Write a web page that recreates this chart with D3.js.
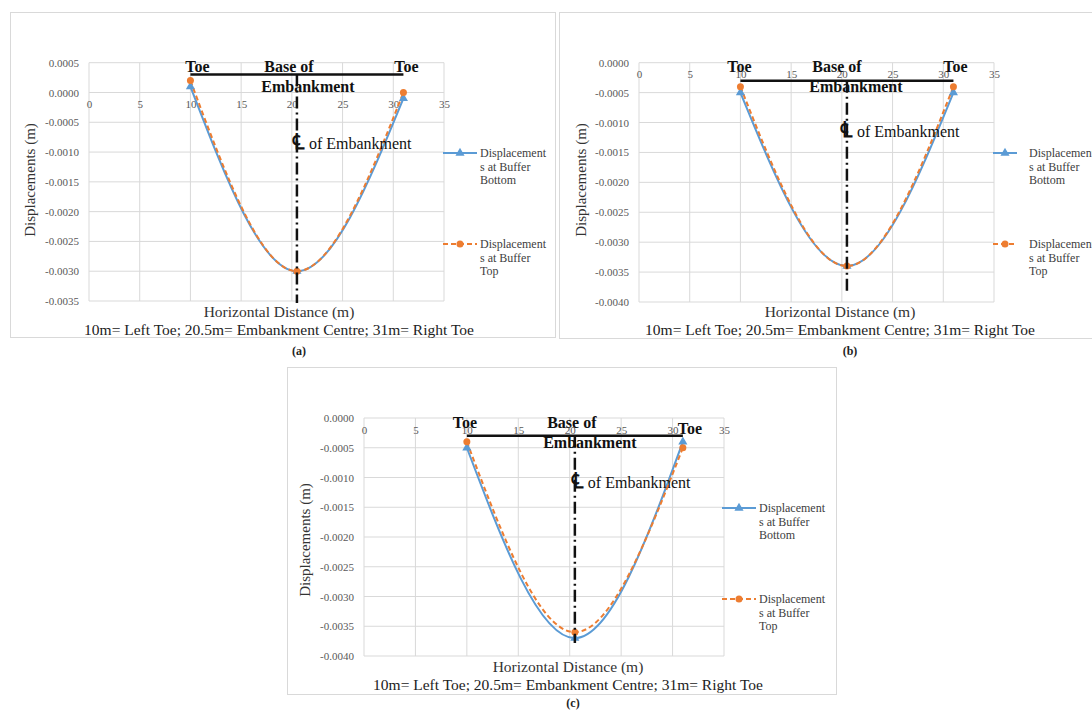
<!DOCTYPE html>
<html><head><meta charset="utf-8">
<script src="https://cdn.jsdelivr.net/npm/d3@7"></script>
<style>body{margin:0;background:#fff} svg{display:block}</style>
</head><body><svg id="chart" width="1092" height="712"></svg>
<script>
// ---------- data ----------
const xValues = [10, 20.5, 31];
const xTicks = [0, 5, 10, 15, 20, 25, 30, 35];
const yTicksA = [0.0005, 0, -0.0005, -0.001, -0.0015, -0.002, -0.0025, -0.003, -0.0035];
const yTicksBC = [0, -0.0005, -0.001, -0.0015, -0.002, -0.0025, -0.003, -0.0035, -0.004];
const bottomA = [0.0001, -0.0030, -0.0001];
const topA = [0.0002, -0.0030, 0.0000];
const bottomB = [-0.0005, -0.0034, -0.0005];
const topB = [-0.0004, -0.0034, -0.0004];
const bottomC = [-0.0005, -0.0037, -0.0004];
const topC = [-0.0004, -0.0036, -0.0005];
const legendBottom = ["Displacement", "s at Buffer", "Bottom"];
const legendTop = ["Displacement", "s at Buffer", "Top"];
const panelLabels = ["(a)", "(b)", "(c)"];
const yTitle = "Displacements (m)";
const xTitle = "Horizontal Distance (m)";
const subTitle = "10m= Left Toe; 20.5m= Embankment Centre; 31m= Right Toe";
const baseLineY = [0.0003, -0.0003, -0.0003];   // embankment base annotation level (data units)
const toeX = [10, 31];
const centreX = 20.5;

// ---------- layout ----------
const layouts = [
  {frame:[10,12,545,325], plot:[89,444,62.7,301], dom:[-0.0035,0.0005], ticks:yTicksA,
   leg:{x0:443,x1:477,tx:480,y1:153,y2:244}, yt:[30,180], xt:[279,311,329], lab:[299,351],
   ann:{tl:7,tr:3,trdy:0,bo:-8,em:11,cl:-5,cly:86,vEnd:303}},
  {frame:[559,12,560,326], plot:[639,994,62.7,302], dom:[-0.004,0], ticks:yTicksBC,
   leg:{x0:993,x1:1017,tx:1029,y1:153,y2:244}, yt:[581,180], xt:[840,311,329], lab:[850,351],
   ann:{tl:-1,tr:2,trdy:0,bo:-10,em:9,cl:-7,cly:74,vEnd:293}},
  {frame:[287,367,549,327], plot:[364,724,418,656], dom:[-0.004,0], ticks:yTicksBC,
   leg:{x0:722,x1:756,tx:759,y1:508,y2:599}, yt:[305,540], xt:[568,666,684], lab:[573,703],
   ann:{tl:-2,tr:7,trdy:6,bo:-3,em:15,cl:-4,cly:70,vEnd:643}}
];
const seriesSets = [[bottomA, topA], [bottomB, topB], [bottomC, topC]];

const blue = "#5b9bd5", orange = "#ed7d31", grid = "#d9d9d9";
const serif = "'Liberation Serif','Times New Roman',serif";
const svg = d3.select("#chart");

layouts.forEach((L, i) => {
  const g = svg.append("g");
  const [fx, fy, fw, fh] = L.frame;
  g.append("rect").attr("x", fx + 0.5).attr("y", fy + 0.5).attr("width", fw).attr("height", fh)
    .attr("fill", "#fff").attr("stroke", grid);

  const [pl, pr, pt, pb] = L.plot;
  const x = d3.scaleLinear().domain([0, 35]).range([pl, pr]);
  const y = d3.scaleLinear().domain(L.dom).range([pb, pt]);

  // gridlines
  g.append("g").selectAll("line.h").data(L.ticks).join("line")
    .attr("x1", pl).attr("x2", pr).attr("y1", d => y(d)).attr("y2", d => y(d))
    .attr("stroke", grid).attr("stroke-width", 1);
  g.append("g").selectAll("line.v").data(xTicks).join("line")
    .attr("x1", d => x(d)).attr("x2", d => x(d)).attr("y1", pt).attr("y2", pb)
    .attr("stroke", grid).attr("stroke-width", 1);

  // y axis labels
  const yAxis = d3.axisLeft(y).tickValues(L.ticks).tickSize(0).tickPadding(10)
    .tickFormat(d => d3.format(".4f")(d).replace("−", "-"));
  const ya = g.append("g").attr("transform", `translate(${pl},0)`).call(yAxis);
  ya.select(".domain").remove();
  ya.selectAll("text").attr("font-family", serif).attr("font-size", 11).attr("fill", "#595959");

  // x axis labels at y = 0
  const xAxis = d3.axisBottom(x).tickValues(xTicks).tickSize(0).tickPadding(8);
  const xa = g.append("g").attr("transform", `translate(0,${y(0)})`).call(xAxis);
  xa.select(".domain").remove();
  xa.selectAll("text").attr("font-family", serif).attr("font-size", 11).attr("fill", "#595959");

  // series
  const line = d3.line().x((d, k) => x(xValues[k])).y(d => y(d)).curve(d3.curveMonotoneX);
  const [bot, top] = seriesSets[i];
  g.append("path").datum(bot).attr("d", line).attr("fill", "none").attr("stroke", blue).attr("stroke-width", 2);
  g.append("path").datum(top).attr("d", line).attr("fill", "none").attr("stroke", orange)
    .attr("stroke-width", 2).attr("stroke-dasharray", "5,3");
  const tri = d3.symbol().type(d3.symbolTriangle).size(36);
  g.append("g").selectAll("path").data(bot).join("path").attr("d", tri)
    .attr("transform", (d, k) => `translate(${x(xValues[k])},${y(d)})`).attr("fill", blue);
  g.append("g").selectAll("circle").data(top).join("circle")
    .attr("cx", (d, k) => x(xValues[k])).attr("cy", d => y(d)).attr("r", 3.5).attr("fill", orange);

  // annotations
  const A = L.ann;
  const ly = y(baseLineY[i]);
  g.append("line").attr("x1", x(toeX[0])).attr("x2", x(toeX[1])).attr("y1", ly).attr("y2", ly)
    .attr("stroke", "#111").attr("stroke-width", 2.5);
  g.append("line").attr("x1", x(centreX)).attr("x2", x(centreX)).attr("y1", ly).attr("y2", A.vEnd)
    .attr("stroke", "#111").attr("stroke-width", 2.5).attr("stroke-dasharray", "12,4,2,4");
  const bold = (t, cx, by, anchor) => g.append("text").text(t).attr("x", cx).attr("y", by)
    .attr("text-anchor", anchor || "middle").attr("font-family", serif).attr("font-weight", "bold")
    .attr("font-size", 16).attr("fill", "#111");
  bold("Toe", x(toeX[0]) + A.tl, pt + 9.5);
  bold("Toe", x(toeX[1]) + A.tr, pt + 9.5 + A.trdy);
  bold("Base of", x(centreX) + A.bo, pt + 9.5);
  bold("Embankment", x(centreX) + A.em, pt + 29.5);
  g.append("text").attr("x", x(centreX) + A.cl).attr("y", pt + A.cly)
    .attr("font-family", serif).attr("fill", "#111")
    .call(t => {
      t.append("tspan").text("\u2104").attr("font-size", 22).attr("font-weight", "bold");
      t.append("tspan").text(" of Embankment").attr("font-size", 16);
    });

  // titles
  g.append("text").text(yTitle).attr("transform", `translate(${L.yt[0]},${L.yt[1]}) rotate(-90)`)
    .attr("text-anchor", "middle").attr("dominant-baseline", "central")
    .attr("font-family", serif).attr("font-size", 15).attr("fill", "#333");
  g.append("text").text(xTitle).attr("x", L.xt[0]).attr("y", L.xt[1]).attr("text-anchor", "middle")
    .attr("dominant-baseline", "central").attr("font-family", serif).attr("font-size", 15.5).attr("fill", "#333");
  g.append("text").text(subTitle).attr("x", L.xt[0]).attr("y", L.xt[2]).attr("text-anchor", "middle")
    .attr("dominant-baseline", "central").attr("font-family", serif).attr("font-size", 15.5).attr("fill", "#222");

  // legend
  const lg = L.leg;
  [[blue, null, legendBottom, lg.y1, "tri"], [orange, "5,3", legendTop, lg.y2, "circ"]].forEach(([c, dash, lines, ly2, m]) => {
    g.append("line").attr("x1", lg.x0).attr("x2", lg.x1).attr("y1", ly2).attr("y2", ly2)
      .attr("stroke", c).attr("stroke-width", 2).attr("stroke-dasharray", dash);
    const mx = (lg.x0 + lg.x1) / 2;
    if (m === "tri") g.append("path").attr("d", tri).attr("transform", `translate(${mx},${ly2})`).attr("fill", c);
    else g.append("circle").attr("cx", mx).attr("cy", ly2).attr("r", 3.5).attr("fill", c);
    g.append("g").selectAll("text").data(lines).join("text").text(d => d)
      .attr("x", lg.tx).attr("y", (d, k) => ly2 + k * 13.5).attr("dominant-baseline", "central")
      .attr("font-family", serif).attr("font-size", 12).attr("fill", "#404040");
  });

  // panel label
  svg.append("text").text(panelLabels[i]).attr("x", L.lab[0]).attr("y", L.lab[1])
    .attr("text-anchor", "middle").attr("dominant-baseline", "central")
    .attr("font-family", serif).attr("font-weight", "bold").attr("font-size", 12).attr("fill", "#222");
});
</script></body></html>
